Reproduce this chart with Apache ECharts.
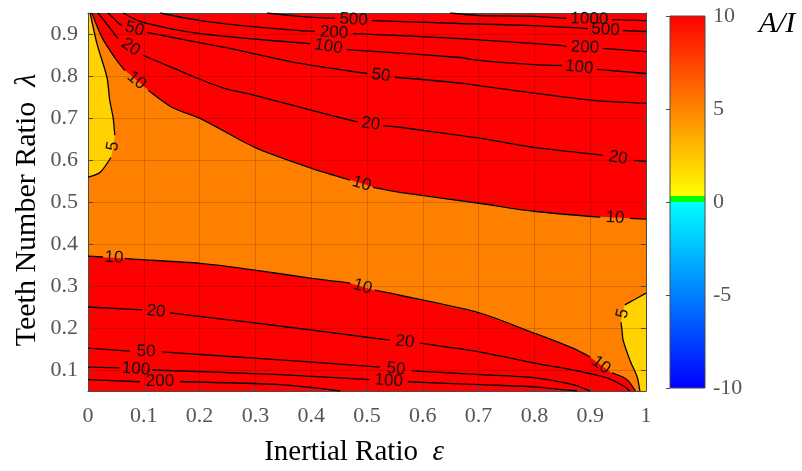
<!DOCTYPE html>
<html><head><meta charset="utf-8">
<script src="https://cdn.jsdelivr.net/npm/echarts@6/dist/echarts.min.js"></script>
<style>html,body{margin:0;padding:0;background:#fff}#c{width:802px;height:471px}</style>
</head><body><div id="c"></div>
<script>
// ---- axes / ticks ----
const xTicks = [0, 0.1, 0.2, 0.3, 0.4, 0.5, 0.6, 0.7, 0.8, 0.9, 1];
const yTicks = [0.1, 0.2, 0.3, 0.4, 0.5, 0.6, 0.7, 0.8, 0.9];
const cbTicks = [-10, -5, 0, 5, 10];
// colour map of the colour bar (value -> colour)
const cmapValues = [-10, 0, 0, 0.32, 0.32, 10];
const cmapColors = ['#0000FF', '#00FFFF', '#00FF00', '#00FF00', '#FFFF00', '#FF0000'];
// fill colour of each filled band
const bandColors = { above10: '#FF0000', from5to10: '#FF8000', from0to5: '#FFD200' };

// ---- contour lines [epsilon, lambda]; null = gap where the level label sits ----
const upper10 = [[0.007,0.95],[0.025,0.892],[0.048,0.844],[0.066,0.813],null,[0.108,0.766],[0.151,0.725],[0.201,0.699],[0.299,0.630],[0.401,0.580],[0.470,0.552],null,[0.511,0.535],[0.559,0.523],[0.701,0.497],[0.799,0.478],[0.918,0.464],null,[0.971,0.461],[1,0.459]];
const upper20 = [[0.018,0.95],[0.043,0.908],[0.054,0.889],null,[0.099,0.849],[0.151,0.820],[0.197,0.794],[0.246,0.770],[0.299,0.754],[0.401,0.718],[0.484,0.690],null,[0.529,0.682],[0.559,0.678],[0.701,0.652],[0.799,0.630],[0.905,0.614],[0.923,0.611],null,[0.977,0.599],[1,0.597]];
const upper50 = [[0.036,0.95],[0.054,0.927],[0.061,0.920],null,[0.106,0.904],[0.151,0.892],[0.197,0.880],[0.246,0.868],[0.380,0.830],[0.500,0.806],null,[0.550,0.797],[0.667,0.783],[0.799,0.759],[0.905,0.742],[1,0.735]];
const upper100 = [[0.063,0.95],[0.093,0.930],[0.147,0.913],[0.201,0.901],[0.290,0.889],[0.398,0.877],null,[0.464,0.863],[0.667,0.844],[0.701,0.837],[0.799,0.827],[0.849,0.825],null,[0.912,0.816],[1,0.806]];
const upper200 = [[0.129,0.95],[0.201,0.932],[0.290,0.918],[0.380,0.908],[0.407,0.906],null,[0.475,0.901],[0.667,0.889],[0.846,0.873],[0.858,0.870],null,[0.923,0.866],[1,0.858]];
const upper500 = [[0.321,0.95],[0.380,0.942],[0.443,0.937],null,[0.509,0.932],[0.667,0.925],[0.799,0.920],[0.896,0.913],null,[0.959,0.908],[1,0.906]];
const upper1000 = [[0.649,0.95],[0.703,0.944],[0.799,0.942],[0.858,0.937],null,[0.939,0.934],[1,0.932]];
const lower10 = [[0,0.371],[0.027,0.369],null,[0.066,0.366],[0.081,0.364],[0.201,0.354],[0.299,0.338],[0.401,0.318],[0.470,0.307],null,[0.514,0.290],[0.559,0.278],[0.701,0.236],[0.799,0.188],[0.869,0.152],[0.900,0.131],null,[0.939,0.093],[0.966,0.077],[0.981,0.05]];
const lower20 = [[0,0.250],[0.097,0.243],null,[0.147,0.236],[0.299,0.212],[0.401,0.195],[0.500,0.178],[0.541,0.171],null,[0.595,0.164],[0.701,0.143],[0.810,0.114],[0.869,0.100],[0.930,0.081],[0.962,0.060],[0.971,0.05]];
const lower50 = [[0,0.152],[0.075,0.145],null,[0.133,0.143],[0.344,0.124],[0.523,0.107],null,[0.581,0.098],[0.703,0.089],[0.799,0.082],[0.869,0.065],[0.900,0.05]];
const lower100 = [[0,0.107],[0.057,0.105],null,[0.115,0.100],[0.344,0.089],[0.505,0.077],null,[0.573,0.072],[0.703,0.065],[0.799,0.060],[0.876,0.05]];
const lower200 = [[0,0.077],[0.093,0.072],null,[0.165,0.072],[0.344,0.065],[0.452,0.05]];
const left5 = [[0.004,0.95],[0.016,0.877],[0.034,0.797],[0.039,0.742],[0.045,0.701],[0.048,0.659],null,[0.041,0.606],[0.022,0.571],[0,0.559]];
const right5 = [[1,0.283],[0.977,0.266],[0.962,0.255],null,[0.955,0.214],[0.957,0.195],[0.959,0.171],[0.971,0.124],[0.984,0.084],[0.989,0.05]];

const contours = [
  {level: 10, pts: upper10}, {level: 20, pts: upper20}, {level: 50, pts: upper50},
  {level: 100, pts: upper100}, {level: 200, pts: upper200}, {level: 500, pts: upper500},
  {level: 1000, pts: upper1000},
  {level: 10, pts: lower10}, {level: 20, pts: lower20}, {level: 50, pts: lower50},
  {level: 100, pts: lower100}, {level: 200, pts: lower200},
  {level: 5, pts: left5}, {level: 5, pts: right5}
];

// ---- build filled regions from the contour lines ----
const solid = a => a.filter(p => p !== null);
const X0 = 0, X1 = 1, Y0 = 0.05, Y1 = 0.95;
const regions = [
  {color: bandColors.above10, pts: [[X0,Y0],[X1,Y0],[X1,Y1],[X0,Y1]]},
  {color: bandColors.from5to10, pts: [[X0,Y1]].concat(solid(upper10), [[X1,Y0]], solid(lower10).slice().reverse())},
  {color: bandColors.from0to5, pts: [[X0,Y1]].concat(solid(left5))},
  {color: bandColors.from0to5, pts: solid(right5).concat([[X1,Y0]])}
];

// ---- label gaps ----
const labels = [];
contours.forEach(c => {
  c.pts.forEach((p, k) => {
    if (p === null) labels.push({a: c.pts[k-1], b: c.pts[k+1], level: c.level});
  });
});

const axisColor = '#4a4a4a';
const tickFont = {color: '#555', fontFamily: 'Liberation Serif', fontSize: 22};
const fmt = v => String(Math.round(v * 10) / 10);

const series = [];
series.push({
  type: 'custom', xAxisIndex: 0, yAxisIndex: 0, z: 1, silent: true, clip: true,
  data: regions.map(r => r.pts[0]),
  renderItem: (params, api) => {
    const r = regions[params.dataIndex];
    return {type: 'polygon', shape: {points: r.pts.map(p => api.coord(p))},
      style: {fill: r.color, stroke: r.color, lineWidth: 0.5}};
  }
});
contours.forEach(c => {
  let seg = [];
  const segs = [];
  c.pts.forEach(p => { if (p === null) { segs.push(seg); seg = []; } else seg.push(p); });
  segs.push(seg);
  segs.forEach(s => series.push({
    type: 'line', xAxisIndex: 0, yAxisIndex: 0, data: s, smooth: 0.25, symbol: 'none',
    lineStyle: {color: '#000', width: 1.3}, z: 4, silent: true
  }));
});
series.push({
  type: 'custom', xAxisIndex: 0, yAxisIndex: 0, z: 5, silent: true,
  data: labels.map(l => [(l.a[0] + l.b[0]) / 2, (l.a[1] + l.b[1]) / 2]),
  renderItem: (params, api) => {
    const L = labels[params.dataIndex];
    const pa = api.coord(L.a), pb = api.coord(L.b);
    let ang = Math.atan2(-(pb[1] - pa[1]), pb[0] - pa[0]);
    if (ang > Math.PI / 2) ang -= Math.PI;
    if (ang < -Math.PI / 2) ang += Math.PI;
    return {type: 'text', x: (pa[0] + pb[0]) / 2, y: (pa[1] + pb[1]) / 2, rotation: ang,
      style: {text: String(L.level), fill: '#111', font: '17px "Liberation Sans"', align: 'center', verticalAlign: 'middle'}};
  }
});
series.push({
  type: 'custom', xAxisIndex: 2, yAxisIndex: 2, z: 1, silent: true,
  data: [[0.5, 0]],
  renderItem: (params, api) => {
    const p1 = api.coord([0, cbTicks[cbTicks.length - 1]]);
    const p2 = api.coord([1, cbTicks[0]]);
    const span = cbTicks[cbTicks.length - 1] - cbTicks[0];
    return {type: 'rect', shape: {x: p1[0], y: p1[1], width: p2[0] - p1[0], height: p2[1] - p1[1]},
      style: {fill: {type: 'linear', x: 0, y: 1, x2: 0, y2: 0,
        colorStops: cmapValues.map((v, i) => ({offset: (v - cbTicks[0]) / span, color: cmapColors[i]}))},
        stroke: axisColor, lineWidth: 1}};
  }
});

const chart = echarts.init(document.getElementById('c'), null, {renderer: 'canvas'});
chart.setOption({
  animation: false,
  backgroundColor: '#fff',
  grid: [
    {left: 88, top: 13, width: 558, height: 378},
    {left: 670, top: 16, width: 35, height: 372}
  ],
  xAxis: [
    {gridIndex: 0, type: 'value', min: 0, max: 1, interval: 0.1, position: 'bottom', z: 3,
      axisLine: {show: true, onZero: false, lineStyle: {color: axisColor, width: 1}},
      axisTick: {show: true, inside: true, length: 5, lineStyle: {color: axisColor}},
      axisLabel: Object.assign({margin: 14, formatter: fmt}, tickFont),
      splitLine: {show: true, lineStyle: {color: 'rgba(0,0,0,0.16)', width: 1}}},
    {gridIndex: 0, type: 'value', min: 0, max: 1, interval: 0.1, position: 'top', z: 3,
      axisLine: {show: true, onZero: false, lineStyle: {color: axisColor, width: 1}},
      axisTick: {show: true, inside: true, length: 5, lineStyle: {color: axisColor}},
      axisLabel: {show: false}, splitLine: {show: false}},
    {gridIndex: 1, type: 'value', min: 0, max: 1, show: false}
  ],
  yAxis: [
    {gridIndex: 0, type: 'value', min: Y0, max: Y1, position: 'left', z: 3,
      axisLine: {show: true, onZero: false, lineStyle: {color: axisColor, width: 1}},
      axisTick: {show: true, inside: true, length: 5, customValues: yTicks, lineStyle: {color: axisColor}},
      axisLabel: Object.assign({margin: 10, customValues: yTicks, formatter: fmt}, tickFont),
      splitLine: {show: true, lineStyle: {color: 'rgba(0,0,0,0.16)', width: 1}}},
    {gridIndex: 0, type: 'value', min: Y0, max: Y1, position: 'right', z: 3,
      axisLine: {show: true, onZero: false, lineStyle: {color: axisColor, width: 1}},
      axisTick: {show: true, inside: true, length: 5, customValues: yTicks, lineStyle: {color: axisColor}},
      axisLabel: {show: false}, splitLine: {show: false}},
    {gridIndex: 1, type: 'value', min: cbTicks[0], max: cbTicks[cbTicks.length - 1], interval: 5, position: 'right', z: 3,
      axisLine: {show: false},
      axisTick: {show: true, inside: true, length: 4, lineStyle: {color: axisColor}},
      axisLabel: Object.assign({margin: 8}, tickFont),
      splitLine: {show: false}}
  ],
  graphic: [
    {type: 'text', x: 354, y: 452, silent: true,
      style: {text: 'Inertial Ratio  {i|ε}', font: '29px "Liberation Serif"', fill: '#000',
        align: 'center', verticalAlign: 'middle',
        rich: {i: {fontStyle: 'italic', fontSize: 29, fontFamily: 'Liberation Serif', fill: '#000'}}}},
    {type: 'text', x: 27, y: 210, rotation: Math.PI / 2, silent: true,
      style: {text: 'Teeth Number Ratio  {i|λ}', font: '30px "Liberation Serif"', fill: '#000',
        align: 'center', verticalAlign: 'middle',
        rich: {i: {fontStyle: 'italic', fontSize: 30, fontFamily: 'Liberation Serif', fill: '#000'}}}},
    {type: 'text', x: 777, y: 24, silent: true,
      style: {text: 'A/I', font: 'italic 30px "Liberation Serif"', fill: '#000', align: 'center', verticalAlign: 'middle'}}
  ],
  series: series
});
</script></body></html>
